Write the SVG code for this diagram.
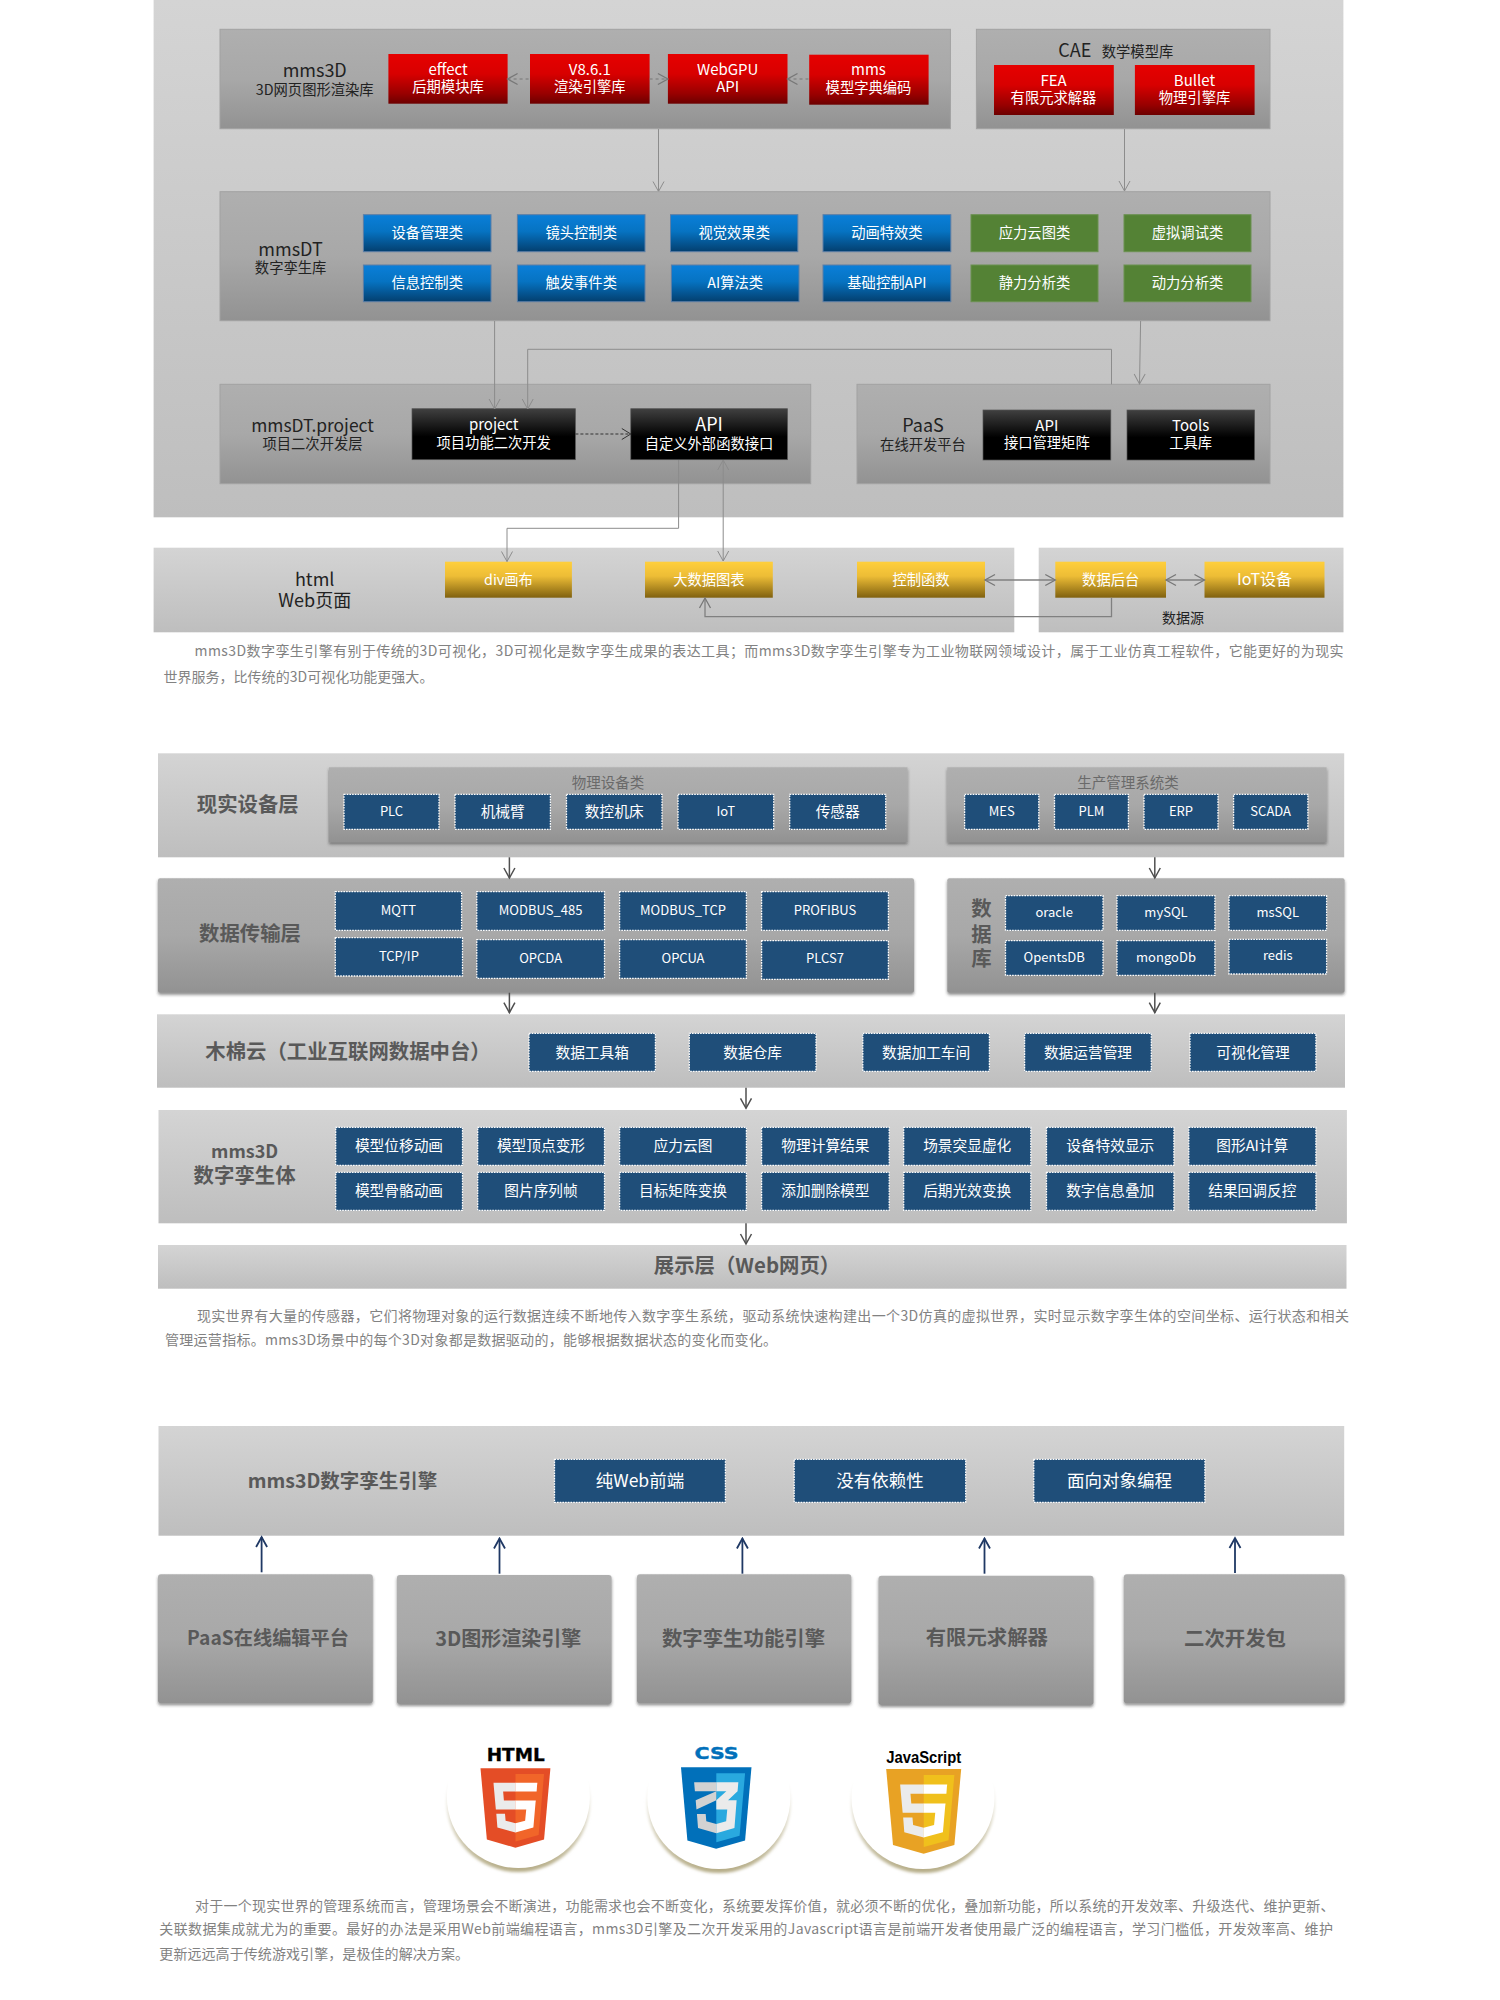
<svg xmlns="http://www.w3.org/2000/svg" width="1500" height="2000" viewBox="0 0 1500 2000">
<style>
text{font-family:"Noto Sans CJK SC","Noto Sans",sans-serif;text-anchor:middle;dominant-baseline:central;transform:translateY(-1.8px)}
.bgp{fill:url(#light)}
.pn{fill:url(#mid);stroke:#a2a2a2;stroke-width:1}
.sh{filter:url(#shadow)}
.red{fill:url(#red)}
.blue{fill:url(#blue);stroke:#5c7ea6;stroke-width:1}
.green{fill:#548235;stroke:#6b9150;stroke-width:1}
.black{fill:url(#black);stroke:#555;stroke-width:.7}
.yel{fill:url(#yel)}
.nv{fill:#1f4e79;stroke:#fff;stroke-width:1.3;stroke-dasharray:1.6 1.1}
.w{fill:#fff;font-size:14.3px}
.nv+.w{font-size:14.7px}
.w2{fill:#fff;font-size:15px}
.wl{fill:#fff;font-size:13px}
.wb{fill:#fff;font-size:17.5px}
.d{fill:#222;font-size:14.3px}
.dl{fill:#222;font-size:18px}
.t{fill:#6a6a6a;font-size:14.5px}
.h{fill:#595959;font-size:20.4px;font-weight:700}
.p{fill:#828282;font-size:14px;text-anchor:start;transform:translateY(-2.6px)}
.g1{fill:none;stroke:#8c8c8c;stroke-width:1}
.g2{fill:none;stroke:#777;stroke-width:1;stroke-dasharray:3 3}
.g3{fill:none;stroke:#333;stroke-width:1;stroke-dasharray:3 2}
.g4{fill:none;stroke:#808080;stroke-width:1.3}
.k{fill:none;stroke:#4f4f4f;stroke-width:1.5}
.n{fill:none;stroke:#1f3864;stroke-width:1.8}
</style>
<defs>
<linearGradient id="light" x1="0" y1="0" x2="0" y2="1"><stop offset="0" stop-color="#d4d4d4"/><stop offset="1" stop-color="#bebebe"/></linearGradient>
<linearGradient id="mid" x1="0" y1="0" x2="0" y2="1"><stop offset="0" stop-color="#afafaf"/><stop offset=".5" stop-color="#a8a8a8"/><stop offset="1" stop-color="#929292"/></linearGradient>
<linearGradient id="red" x1="0" y1="0" x2="0" y2="1"><stop offset="0" stop-color="#e60000"/><stop offset=".4" stop-color="#d80000"/><stop offset=".8" stop-color="#980000"/><stop offset="1" stop-color="#6c0000"/></linearGradient>
<linearGradient id="blue" x1="0" y1="0" x2="0" y2="1"><stop offset="0" stop-color="#0a7fd9"/><stop offset=".45" stop-color="#0673c2"/><stop offset="1" stop-color="#033f6f"/></linearGradient>
<linearGradient id="black" x1="0" y1="0" x2="0" y2="1"><stop offset="0" stop-color="#404040"/><stop offset=".55" stop-color="#000"/><stop offset="1" stop-color="#000"/></linearGradient>
<linearGradient id="yel" x1="0" y1="0" x2="0" y2="1"><stop offset="0" stop-color="#ffcf3c"/><stop offset=".4" stop-color="#edbd36"/><stop offset="1" stop-color="#80610f"/></linearGradient>
<linearGradient id="beige" x1="0" y1="0" x2="0" y2="1"><stop offset=".35" stop-color="#fff"/><stop offset="1" stop-color="#b4ab85"/></linearGradient>
<filter id="shadow" x="-5%" y="-10%" width="110%" height="125%"><feDropShadow dx="0" dy="2" stdDeviation="1.5" flood-color="#333" flood-opacity=".55"/></filter>
<filter id="soft" x="-10%" y="-10%" width="120%" height="120%"><feGaussianBlur stdDeviation="1.6"/></filter>
<marker id="ag" markerUnits="userSpaceOnUse" markerWidth="14" markerHeight="14" viewBox="0 0 14 14" refX="12" refY="7" orient="auto-start-reverse"><path d="M2 1.5L12 7L2 12.5" fill="none" stroke="#8c8c8c" stroke-width="1"/></marker>
<marker id="ah" markerUnits="userSpaceOnUse" markerWidth="14" markerHeight="14" viewBox="0 0 14 14" refX="12" refY="7" orient="auto-start-reverse"><path d="M2 1.5L12 7L2 12.5" fill="none" stroke="#777" stroke-width="1.3"/></marker>
<marker id="ak" markerUnits="userSpaceOnUse" markerWidth="14" markerHeight="14" viewBox="0 0 14 14" refX="12" refY="7" orient="auto-start-reverse"><path d="M3 1.5L12 7L3 12.5" fill="none" stroke="#333" stroke-width="1"/></marker>
<marker id="ad" markerUnits="userSpaceOnUse" markerWidth="14" markerHeight="14" viewBox="0 0 14 14" refX="12" refY="7" orient="auto"><path d="M2 1.5L12 7L2 12.5" fill="none" stroke="#4f4f4f" stroke-width="1.5"/></marker>
<marker id="an" markerUnits="userSpaceOnUse" markerWidth="14" markerHeight="14" viewBox="0 0 14 14" refX="12" refY="7" orient="auto"><path d="M2 1.5L12 7L2 12.5" fill="none" stroke="#1f3864" stroke-width="1.8"/></marker>
<g id="five">
<polygon fill="#ebebeb" points="256,208 181,208 176,150 256,150 256,94 114,94 115,109 129,265 256,265"/>
<polygon fill="#ebebeb" points="256,355 192,338 188,293 158,293 132,293 139,382 256,414"/>
<polygon fill="#fff" points="255,208 255,265 325,265 318,338 255,355 255,414 371,382 372,372 385,223 387,208 371,208"/>
<polygon fill="#fff" points="255,94 255,150 392,150 393,138 395,109 397,94"/>
</g>
</defs>

<!-- section backgrounds -->
<rect id="panel-top" class="bgp" x="153.6" y="0" width="1189.8" height="517.3"/>
<rect id="panel-web" class="bgp" x="153.6" y="547.7" width="860.7" height="84.6"/>
<rect id="panel-source" class="bgp" x="1038.7" y="547.7" width="304.8" height="84.6"/>

<g id="connectors">
<path class="g1" marker-end="url(#ag)" d="M658.5 129V191.5"/>
<path class="g1" marker-end="url(#ag)" d="M1124.5 129V191"/>
</g>

<g id="mms3D">
<rect class="pn" x="220" y="29.3" width="730.4" height="99.4"/>
<text class="dl" x="314.7" y="71.3">mms3D</text><text class="d" x="314.7" y="90.3">3D网页图形渲染库</text>
</g>
<g id="effect"><rect class="red" x="388.4" y="54" width="119.2" height="49.7"/><text class="w2" x="448" y="70.5">effect</text><text class="w" x="448" y="87.5">后期模块库</text></g>
<g id="v861"><rect class="red" x="530" y="54" width="119.6" height="49.7"/><text class="w2" x="589.8" y="70.5">V8.6.1</text><text class="w" x="589.8" y="87.5">渲染引擎库</text></g>
<g id="webgpu"><rect class="red" x="667.9" y="54" width="119.6" height="49.7"/><text class="w2" x="727.7" y="70.5">WebGPU</text><text class="w2" x="727.7" y="87.5">API</text></g>
<g id="mms"><rect class="red" x="809.2" y="54.7" width="119.4" height="50"/><text class="w2" x="868.5" y="70.7">mms</text><text class="w" x="868.5" y="88">模型字典编码</text></g>

<g id="cae">
<rect class="pn" x="976.4" y="29.3" width="293.6" height="99.4"/>
<text class="dl" x="1074.8" y="51">CAE</text><text class="d" x="1137.5" y="52.7">数学模型库</text>
</g>
<g id="fea"><rect class="red" x="994" y="65" width="119.8" height="50"/><text class="w2" x="1053.5" y="81">FEA</text><text class="w" x="1053.5" y="98">有限元求解器</text></g>
<g id="bullet"><rect class="red" x="1134.9" y="65" width="119.7" height="50"/><text class="w2" x="1194.5" y="81">Bullet</text><text class="w" x="1194.5" y="98">物理引擎库</text></g>

<g id="mmsDT">
<rect class="pn" x="220" y="191.7" width="1050" height="129"/>
<text class="dl" x="290.6" y="250">mmsDT</text><text class="d" x="290.6" y="268.7">数字孪生库</text>
</g>
<g id="b1"><rect class="blue" x="363.4" y="214.7" width="127.6" height="37"/><text class="w" x="427.2" y="233.3">设备管理类</text></g>
<g id="b2"><rect class="blue" x="517.4" y="214.7" width="127.6" height="37"/><text class="w" x="581.2" y="233.3">镜头控制类</text></g>
<g id="b3"><rect class="blue" x="670.5" y="214.7" width="127.3" height="37"/><text class="w" x="734.2" y="233.3">视觉效果类</text></g>
<g id="b4"><rect class="blue" x="823" y="214.7" width="127.8" height="37"/><text class="w" x="886.9" y="233.3">动画特效类</text></g>
<g id="b5"><rect class="blue" x="363.4" y="265" width="127.6" height="36.7"/><text class="w" x="427.2" y="283.7">信息控制类</text></g>
<g id="b6"><rect class="blue" x="517.4" y="265" width="127.6" height="36.7"/><text class="w" x="581.2" y="283.7">触发事件类</text></g>
<g id="b7"><rect class="blue" x="671.4" y="265" width="127.6" height="36.7"/><text class="w" x="735.2" y="283.7">AI算法类</text></g>
<g id="b8"><rect class="blue" x="823" y="265" width="127.8" height="36.7"/><text class="w" x="886.9" y="283.7">基础控制API</text></g>
<g id="g1"><rect class="green" x="971" y="214.7" width="127" height="37"/><text class="w" x="1034.5" y="233.3">应力云图类</text></g>
<g id="g2"><rect class="green" x="1124" y="214.7" width="127" height="37"/><text class="w" x="1187.5" y="233.3">虚拟调试类</text></g>
<g id="g3"><rect class="green" x="971" y="265" width="127" height="36.7"/><text class="w" x="1034.5" y="283.7">静力分析类</text></g>
<g id="g4"><rect class="green" x="1124" y="265" width="127" height="36.7"/><text class="w" x="1187.5" y="283.7">动力分析类</text></g>

<g id="project-layer">
<rect class="pn" x="220" y="384.3" width="590.7" height="99.4"/>
<text class="dl" x="312.5" y="426" style="font-size:17.4px">mmsDT.project</text><text class="d" x="312.5" y="444.7">项目二次开发层</text>
</g>
<g id="paas">
<rect class="pn" x="857" y="384.3" width="413" height="99.4"/>
<text class="dl" x="923" y="426">PaaS</text><text class="d" x="923" y="445">在线开发平台</text>
</g>
<g id="project"><rect class="black" x="412" y="408.7" width="163.4" height="51"/><text class="w2" x="493.7" y="425.7">project</text><text class="w" x="493.7" y="443.3">项目功能二次开发</text></g>
<g id="api"><rect class="black" x="630.8" y="408.7" width="156.7" height="51"/><text class="w" x="709" y="425" style="font-size:18px">API</text><text class="w" x="709" y="444.7">自定义外部函数接口</text></g>
<g id="paas-api"><rect class="black" x="983" y="410" width="127.8" height="50"/><text class="w2" x="1046.8" y="426.3">API</text><text class="w" x="1046.8" y="443.7">接口管理矩阵</text></g>
<g id="tools"><rect class="black" x="1127" y="410" width="127.6" height="50"/><text class="w2" x="1190.7" y="426.3">Tools</text><text class="w" x="1190.7" y="443.7">工具库</text></g>

<g id="web-page"><text class="dl" x="314.7" y="580">html</text><text class="dl" x="314.7" y="600.7">Web页面</text></g>
<g id="y1"><rect class="yel" x="445" y="561.7" width="126.9" height="36"/><text class="w" x="508.5" y="580">div画布</text></g>
<g id="y2"><rect class="yel" x="645" y="561.7" width="127.8" height="36"/><text class="w" x="708.9" y="580">大数据图表</text></g>
<g id="y3"><rect class="yel" x="857" y="561.7" width="128" height="36"/><text class="w" x="921" y="580">控制函数</text></g>
<g id="y4"><rect class="yel" x="1055.3" y="561.7" width="110.7" height="36"/><text class="w" x="1110.7" y="580">数据后台</text></g>
<g id="y5"><rect class="yel" x="1204.5" y="561.7" width="120" height="36"/><text class="w" x="1264.5" y="580" style="font-size:16px">IoT设备</text></g>
<text id="source-label" class="d" x="1183" y="619.3" style="font-size:14px">数据源</text>

<g id="connectors-top">
<path class="g2" marker-start="url(#ah)" d="M507.6 79H530"/>
<path class="g2" marker-end="url(#ah)" d="M649.6 79H667.9"/>
<path class="g2" marker-start="url(#ah)" d="M787.5 79H809.2"/>
<path class="g1" marker-end="url(#ag)" d="M494.6 321V409"/>
<path class="g1" marker-end="url(#ag)" d="M1111.5 384.3V349.3H527.7V409"/>
<path class="g1" marker-end="url(#ag)" d="M1140.6 321L1139.5 384"/>
<path class="g3" marker-end="url(#ak)" d="M575.4 434H630.8"/>
<path class="g1" marker-end="url(#ag)" d="M678.6 460V528.3H507V561.5"/>
<path class="g1" marker-start="url(#ag)" marker-end="url(#ag)" d="M723.2 460V561"/>
<path class="g4" marker-start="url(#ah)" marker-end="url(#ah)" d="M985 580H1055.3"/>
<path class="g4" marker-start="url(#ah)" marker-end="url(#ah)" d="M1166 580H1204.5"/>
<path class="g4" marker-end="url(#ah)" d="M1111.5 597.7V616.7H705V598"/>
</g>

<text class="p" x="194.6" y="652.7" textLength="1149">mms3D数字孪生引擎有别于传统的3D可视化，3D可视化是数字孪生成果的表达工具；而mms3D数字孪生引擎专为工业物联网领域设计，属于工业仿真工程软件，它能更好的为现实</text>
<text class="p" x="163.4" y="678.3" textLength="270">世界服务，比传统的3D可视化功能更强大。</text>

<!-- section 2 -->
<g id="layer-device">
<rect class="bgp" x="158" y="753.3" width="1186.2" height="104"/>
<text class="h" x="247.8" y="805">现实设备层</text>
</g>
<g id="group-phys"><rect class="pn sh" style="stroke:none" x="329" y="767.3" width="578.5" height="75"/><text class="t" x="608" y="783.3">物理设备类</text></g>
<g id="group-prod"><rect class="pn sh" style="stroke:none" x="947.3" y="767.3" width="379.3" height="75"/><text class="t" x="1128" y="783.3">生产管理系统类</text></g>
<g id="n-plc"><rect class="nv" x="344" y="794.3" width="95" height="35"/><text class="wl" x="391.5" y="812">PLC</text></g>
<g id="n-arm"><rect class="nv" x="455" y="794.3" width="95.4" height="35"/><text class="w" x="502.7" y="812">机械臂</text></g>
<g id="n-cnc"><rect class="nv" x="566.5" y="794.3" width="95.5" height="35"/><text class="w" x="614.2" y="812">数控机床</text></g>
<g id="n-iot"><rect class="nv" x="678" y="794.3" width="95.7" height="35"/><text class="wl" x="725.8" y="812">IoT</text></g>
<g id="n-sensor"><rect class="nv" x="789.7" y="794.3" width="96" height="35"/><text class="w" x="837.7" y="812">传感器</text></g>
<g id="n-mes"><rect class="nv" x="964.6" y="794.3" width="74.2" height="35"/><text class="wl" x="1001.7" y="812">MES</text></g>
<g id="n-plm"><rect class="nv" x="1054.5" y="794.3" width="73.9" height="35"/><text class="wl" x="1091.4" y="812">PLM</text></g>
<g id="n-erp"><rect class="nv" x="1144" y="794.3" width="74" height="35"/><text class="wl" x="1181" y="812">ERP</text></g>
<g id="n-scada"><rect class="nv" x="1233.6" y="794.3" width="74.3" height="35"/><text class="wl" x="1270.7" y="812">SCADA</text></g>

<g id="layer-transport">
<rect class="pn sh" style="stroke:none" x="158" y="878.3" width="756" height="114.4" rx="2"/>
<text class="h" x="250" y="934.3">数据传输层</text>
</g>
<g id="t1"><rect class="nv" x="335.3" y="891.7" width="126.3" height="38.6"/><text class="wl" x="398.4" y="911">MQTT</text></g>
<g id="t2"><rect class="nv" x="476.8" y="891.7" width="127.7" height="38.6"/><text class="wl" x="540.6" y="911">MODBUS_485</text></g>
<g id="t3"><rect class="nv" x="619.6" y="891.7" width="126.8" height="38.6"/><text class="wl" x="683" y="911">MODBUS_TCP</text></g>
<g id="t4"><rect class="nv" x="761.6" y="891.7" width="126.8" height="38.6"/><text class="wl" x="825" y="911">PROFIBUS</text></g>
<g id="t5"><rect class="nv" x="335.3" y="937.7" width="127.2" height="38.3"/><text class="wl" x="398.9" y="957">TCP/IP</text></g>
<g id="t6"><rect class="nv" x="476.8" y="939.7" width="127.7" height="38.6"/><text class="wl" x="540.6" y="959">OPCDA</text></g>
<g id="t7"><rect class="nv" x="619.6" y="939.7" width="126.8" height="38.6"/><text class="wl" x="683" y="959">OPCUA</text></g>
<g id="t8"><rect class="nv" x="761.6" y="940.7" width="126.8" height="38.6"/><text class="wl" x="825" y="959.5">PLCS7</text></g>

<g id="layer-db">
<rect class="pn sh" style="stroke:none" x="947.3" y="878.3" width="397.3" height="114.4" rx="2"/>
<text class="h" x="981.5" y="909.3">数</text><text class="h" x="981.5" y="935">据</text><text class="h" x="981.5" y="959.3">库</text>
</g>
<g id="d1"><rect class="nv" x="1005.5" y="895.7" width="97.5" height="34.6"/><text class="wl" x="1054.2" y="913.5">oracle</text></g>
<g id="d2"><rect class="nv" x="1117" y="895.7" width="97.9" height="34.6"/><text class="wl" x="1166" y="913.5">mySQL</text></g>
<g id="d3"><rect class="nv" x="1229" y="895.7" width="97.6" height="34.6"/><text class="wl" x="1277.8" y="913.5">msSQL</text></g>
<g id="d4"><rect class="nv" x="1005.5" y="940.7" width="97.5" height="34.6"/><text class="wl" x="1054.2" y="958">OpentsDB</text></g>
<g id="d5"><rect class="nv" x="1117" y="940.7" width="97.9" height="34.6"/><text class="wl" x="1166" y="958">mongoDb</text></g>
<g id="d6"><rect class="nv" x="1229" y="939.3" width="97.6" height="34.7"/><text class="wl" x="1277.8" y="956.5">redis</text></g>

<g id="layer-cloud">
<rect class="bgp" x="157" y="1014.3" width="1188" height="73.4"/>
<text class="h" x="348" y="1051.7">木棉云（工业互联网数据中台）</text>
</g>
<g id="c1"><rect class="nv" x="529" y="1033.3" width="126.4" height="38"/><text class="w" x="592.2" y="1053">数据工具箱</text></g>
<g id="c2"><rect class="nv" x="689.3" y="1033.3" width="126.7" height="38"/><text class="w" x="752.6" y="1053">数据仓库</text></g>
<g id="c3"><rect class="nv" x="862.8" y="1033.3" width="126.6" height="38"/><text class="w" x="926.1" y="1053">数据加工车间</text></g>
<g id="c4"><rect class="nv" x="1024.6" y="1033.3" width="126.7" height="38"/><text class="w" x="1088" y="1053">数据运营管理</text></g>
<g id="c5"><rect class="nv" x="1190" y="1033.3" width="125.9" height="38"/><text class="w" x="1253" y="1053">可视化管理</text></g>

<g id="layer-twin">
<rect class="bgp" x="158.5" y="1110" width="1188.4" height="113.3"/>
<text class="h" x="244.6" y="1152" style="font-size:18px">mms3D</text><text class="h" x="244.6" y="1176">数字孪生体</text>
</g>
<g id="m1"><rect class="nv" x="335.7" y="1127.3" width="126.8" height="38"/><text class="w" x="399" y="1146">模型位移动画</text></g>
<g id="m2"><rect class="nv" x="477.7" y="1127.3" width="126.8" height="38"/><text class="w" x="541" y="1146">模型顶点变形</text></g>
<g id="m3"><rect class="nv" x="619.6" y="1127.3" width="126.8" height="38"/><text class="w" x="683" y="1146">应力云图</text></g>
<g id="m4"><rect class="nv" x="761.6" y="1127.3" width="127.6" height="38"/><text class="w" x="825.4" y="1146">物理计算结果</text></g>
<g id="m5"><rect class="nv" x="903.7" y="1127.3" width="127.1" height="38"/><text class="w" x="967.2" y="1146">场景突显虚化</text></g>
<g id="m6"><rect class="nv" x="1046.5" y="1127.3" width="127.4" height="38"/><text class="w" x="1110.2" y="1146">设备特效显示</text></g>
<g id="m7"><rect class="nv" x="1188.8" y="1127.3" width="127.1" height="38"/><text class="w" x="1252.3" y="1146">图形AI计算</text></g>
<g id="m8"><rect class="nv" x="335.7" y="1172.3" width="126.8" height="38"/><text class="w" x="399" y="1191.5">模型骨骼动画</text></g>
<g id="m9"><rect class="nv" x="477.7" y="1172.3" width="126.8" height="38"/><text class="w" x="541" y="1191.5">图片序列帧</text></g>
<g id="m10"><rect class="nv" x="619.6" y="1172.3" width="126.8" height="38"/><text class="w" x="683" y="1191.5">目标矩阵变换</text></g>
<g id="m11"><rect class="nv" x="761.6" y="1172.3" width="127.6" height="38"/><text class="w" x="825.4" y="1191.5">添加删除模型</text></g>
<g id="m12"><rect class="nv" x="903.7" y="1172.3" width="127.1" height="38"/><text class="w" x="967.2" y="1191.5">后期光效变换</text></g>
<g id="m13"><rect class="nv" x="1046.5" y="1172.3" width="127.4" height="38"/><text class="w" x="1110.2" y="1191.5">数字信息叠加</text></g>
<g id="m14"><rect class="nv" x="1188.8" y="1172.3" width="127.1" height="38"/><text class="w" x="1252.3" y="1191.5">结果回调反控</text></g>

<g id="layer-show">
<rect class="bgp" x="158" y="1245" width="1188.5" height="43.7"/>
<text class="h" x="747" y="1266">展示层（Web网页）</text>
</g>

<g id="connectors-mid">
<path class="k" marker-end="url(#ad)" d="M509.4 857.3V878"/>
<path class="k" marker-end="url(#ad)" d="M1154.8 857.3V878"/>
<path class="k" marker-end="url(#ad)" d="M509.4 992.7V1012.7"/>
<path class="k" marker-end="url(#ad)" d="M1154.8 992.7V1012.7"/>
<path class="k" marker-end="url(#ad)" d="M746 1087.7V1108.3"/>
<path class="k" marker-end="url(#ad)" d="M746 1223.3V1244"/>
</g>

<text class="p" x="196.9" y="1317.7" textLength="1152">现实世界有大量的传感器，它们将物理对象的运行数据连续不断地传入数字孪生系统，驱动系统快速构建出一个3D仿真的虚拟世界，实时显示数字孪生体的空间坐标、运行状态和相关</text>
<text class="p" x="165" y="1342" textLength="612">管理运营指标。mms3D场景中的每个3D对象都是数据驱动的，能够根据数据状态的变化而变化。</text>

<!-- section 3 -->
<g id="engine">
<rect class="bgp" x="158.5" y="1426" width="1185.7" height="109.7"/>
<text class="h" x="342.5" y="1481.7" style="font-size:19.5px">mms3D数字孪生引擎</text>
</g>
<g id="e1"><rect class="nv" x="554.5" y="1459.3" width="170.9" height="43"/><text class="wb" x="640" y="1481">纯Web前端</text></g>
<g id="e2"><rect class="nv" x="794.2" y="1459.3" width="171.5" height="43"/><text class="wb" x="880" y="1481">没有依赖性</text></g>
<g id="e3"><rect class="nv" x="1033.8" y="1459.3" width="171.1" height="43"/><text class="wb" x="1119.4" y="1481">面向对象编程</text></g>

<g id="s1"><rect class="pn sh" style="stroke:none" x="158" y="1574.3" width="214.8" height="129" rx="3"/><text class="h" x="268" y="1639.3" style="font-size:19.2px">PaaS在线编辑平台</text></g>
<g id="s2"><rect class="pn sh" style="stroke:none" x="396.9" y="1575" width="214.7" height="129" rx="3"/><text class="h" x="508.3" y="1639.3" style="font-size:20px">3D图形渲染引擎</text></g>
<g id="s3"><rect class="pn sh" style="stroke:none" x="637" y="1574.3" width="214.3" height="129" rx="3"/><text class="h" x="743.5" y="1639.3">数字孪生功能引擎</text></g>
<g id="s4"><rect class="pn sh" style="stroke:none" x="878.5" y="1575.7" width="215" height="129.3" rx="3"/><text class="h" x="986.8" y="1638.3">有限元求解器</text></g>
<g id="s5"><rect class="pn sh" style="stroke:none" x="1123.8" y="1574.3" width="220.8" height="129" rx="3"/><text class="h" x="1235" y="1639">二次开发包</text></g>

<g id="connectors-bottom">
<path class="n" marker-end="url(#an)" d="M261.6 1572.3V1537"/>
<path class="n" marker-end="url(#an)" d="M499.5 1573.7V1538.5"/>
<path class="n" marker-end="url(#an)" d="M742.4 1573.7V1538.5"/>
<path class="n" marker-end="url(#an)" d="M984.5 1573.7V1538.5"/>
<path class="n" marker-end="url(#an)" d="M1235 1573V1538"/>
</g>

<g id="logo-html">
<ellipse cx="518.4" cy="1801" rx="72" ry="71" fill="url(#beige)" filter="url(#soft)"/>
<ellipse cx="518.4" cy="1797" rx="71.5" ry="71" fill="#fff"/>
<text x="515.7" y="1756.5" textLength="58" lengthAdjust="spacingAndGlyphs" style="font-family:'DejaVu Sans',sans-serif;font-weight:700;font-size:17px;fill:#000;stroke:#000;stroke-width:.3">HTML</text>
<g transform="translate(475.85 1768.3) scale(.155)">
<polygon fill="#e44d26" points="71,460 30,0 481,0 440,460 255,512"/>
<polygon fill="#f16529" points="256,472 405,431 440,37 256,37"/>
<use href="#five"/>
</g>
</g>
<g id="logo-css">
<ellipse cx="718.8" cy="1802" rx="72" ry="71" fill="url(#beige)" filter="url(#soft)"/>
<ellipse cx="718.8" cy="1798" rx="71.5" ry="71" fill="#fff"/>
<text x="716.6" y="1755" textLength="44" lengthAdjust="spacingAndGlyphs" style="font-family:'DejaVu Sans',sans-serif;font-weight:700;font-size:16.5px;fill:#0170ba;stroke:#0170ba;stroke-width:.4">CSS</text>
<g transform="translate(676.3 1767.3) scale(.1563 .159)">
<polygon fill="#0170ba" points="71,460 30,0 481,0 440,460 255,512"/>
<polygon fill="#29a9df" points="256,472 405,431 440,37 256,37"/>
<polygon fill="#d2d2d2" points="114,94 256,94 256,150 119,150"/>
<polygon fill="#d2d2d2" points="256,150 124,207 129,265 256,208"/>
<polygon fill="#d2d2d2" points="256,356 192,339 188,293 132,293 139,382 256,414"/>
<polygon fill="#ebebeb" points="256,94 397,94 392,150 331,208 386,208 372,382 256,414 256,356 319,339 326,265 256,265 256,208 320,150 256,150"/>
</g>
</g>
<g id="logo-js">
<ellipse cx="923" cy="1802" rx="72" ry="71" fill="url(#beige)" filter="url(#soft)"/>
<ellipse cx="923" cy="1798" rx="71.5" ry="71" fill="#fff"/>
<text x="923.7" y="1759" textLength="75" lengthAdjust="spacingAndGlyphs" style="font-family:'Liberation Sans',sans-serif;font-weight:700;font-size:16px;fill:#000">JavaScript</text>
<g transform="translate(881.2 1769) scale(.1663 .1654)">
<polygon fill="#e8a224" points="71,460 30,0 481,0 440,460 255,512"/>
<polygon fill="#f0c01c" points="256,472 405,431 440,37 256,37"/>
<use href="#five"/>
</g>
</g>

<text class="p" x="195" y="1907.3" textLength="1139.4">对于一个现实世界的管理系统而言，管理场景会不断演进，功能需求也会不断变化，系统要发挥价值，就必须不断的优化，叠加新功能，所以系统的开发效率、升级迭代、维护更新、</text>
<text class="p" x="159.3" y="1931" textLength="1173.7">关联数据集成就尤为的重要。最好的办法是采用Web前端编程语言，mms3D引擎及二次开发采用的Javascript语言是前端开发者使用最广泛的编程语言，学习门槛低，开发效率高、维护</text>
<text class="p" x="159.3" y="1955.3" textLength="309.7">更新远远高于传统游戏引擎，是极佳的解决方案。</text>
</svg>
